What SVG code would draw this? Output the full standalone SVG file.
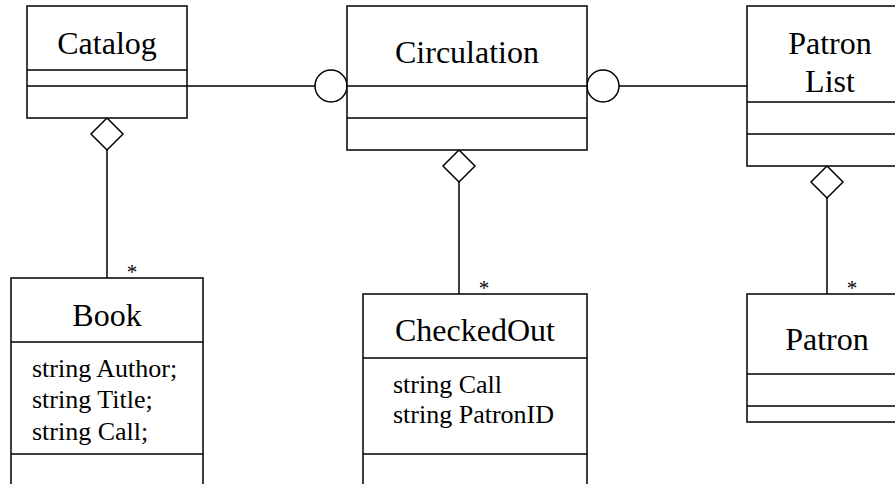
<svg xmlns="http://www.w3.org/2000/svg" width="895" height="484" viewBox="0 0 895 484">
  <style>
    .box { fill: #fff; stroke: #000; stroke-width: 1.5; }
    .ln { fill: none; stroke: #000; stroke-width: 1.5; }
    .dia { fill: #fff; stroke: #000; stroke-width: 1.5; }
    .name { font-family: "Liberation Serif", "Times New Roman", serif; font-size: 32px; text-anchor: middle; fill: #000; }
    .attr { font-family: "Liberation Serif", "Times New Roman", serif; font-size: 26px; fill: #000; }
    .mult { font-family: "Liberation Serif", "Times New Roman", serif; font-size: 21px; text-anchor: middle; fill: #000; }
  </style>
  <rect width="895" height="484" fill="#fff"/>

  <!-- connectors: interface links, aggregation diamonds, multiplicities -->
  <g id="connectors">
    <line class="ln" x1="187" y1="86" x2="315" y2="86"/>
    <circle class="ln" cx="331" cy="86" r="16"/>
    <circle class="ln" cx="603" cy="86" r="16"/>
    <line class="ln" x1="619" y1="86" x2="747" y2="86"/>

    <line class="ln" x1="107" y1="150" x2="107" y2="278"/>
    <polygon class="dia" points="107,118 123,134 107,150 91,134"/>
    <text class="mult" x="132" y="279">*</text>

    <line class="ln" x1="459" y1="182" x2="459" y2="294"/>
    <polygon class="dia" points="459,150 475,166 459,182 443,166"/>
    <text class="mult" x="484" y="295">*</text>

    <line class="ln" x1="827" y1="198" x2="827" y2="294"/>
    <polygon class="dia" points="827,166 843,182 827,198 811,182"/>
    <text class="mult" x="852" y="295">*</text>
  </g>

  <g id="catalog">
    <rect class="box" x="27" y="6" width="160" height="112"/>
    <line class="ln" x1="27" y1="70" x2="187" y2="70"/>
    <line class="ln" x1="27" y1="86" x2="187" y2="86"/>
    <text class="name" x="107" y="54">Catalog</text>
  </g>

  <g id="circulation">
    <rect class="box" x="347" y="6" width="240" height="144"/>
    <line class="ln" x1="347" y1="86" x2="587" y2="86"/>
    <line class="ln" x1="347" y1="118" x2="587" y2="118"/>
    <text class="name" x="467" y="63">Circulation</text>
  </g>

  <g id="patron-list">
    <rect class="box" x="747" y="6" width="166" height="160"/>
    <line class="ln" x1="747" y1="102" x2="913" y2="102"/>
    <line class="ln" x1="747" y1="134" x2="913" y2="134"/>
    <text class="name" x="830" y="54">Patron</text>
    <text class="name" x="830" y="92">List</text>
  </g>

  <g id="book">
    <rect class="box" x="11" y="278" width="192" height="220"/>
    <line class="ln" x1="11" y1="342" x2="203" y2="342"/>
    <line class="ln" x1="11" y1="454" x2="203" y2="454"/>
    <text class="name" x="107" y="326">Book</text>
    <text class="attr" x="32" y="377">string Author;</text>
    <text class="attr" x="32" y="408">string Title;</text>
    <text class="attr" x="32" y="440">string Call;</text>
  </g>

  <g id="checked-out">
    <rect class="box" x="363" y="294" width="224" height="204"/>
    <line class="ln" x1="363" y1="358" x2="587" y2="358"/>
    <line class="ln" x1="363" y1="454" x2="587" y2="454"/>
    <text class="name" x="475" y="341">CheckedOut</text>
    <text class="attr" x="393" y="393">string Call</text>
    <text class="attr" x="393" y="423">string PatronID</text>
  </g>

  <g id="patron">
    <rect class="box" x="747" y="294" width="166" height="128"/>
    <line class="ln" x1="747" y1="374" x2="913" y2="374"/>
    <line class="ln" x1="747" y1="406" x2="913" y2="406"/>
    <text class="name" x="827" y="350">Patron</text>
  </g>
</svg>
